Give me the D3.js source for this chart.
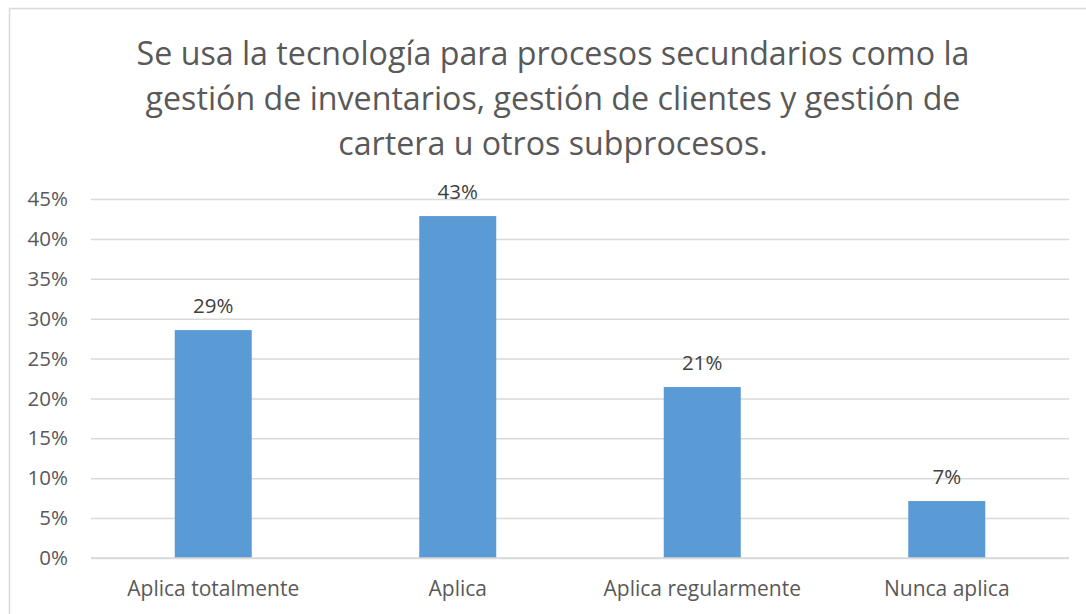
<!DOCTYPE html>
<html>
<head>
<meta charset="utf-8">
<script src="https://cdn.jsdelivr.net/npm/d3@7"></script>
<style>
  html, body { margin: 0; padding: 0; background: #fff; }
  svg { display: block; font-family: "Open Sans", Lato, sans-serif; }
</style>
</head>
<body>
<svg id="chart" width="1086" height="614"></svg>
<script>
const titleLines = [
  "Se usa la tecnología para procesos secundarios como la",
  "gestión de inventarios, gestión de clientes y gestión de",
  "cartera u otros subprocesos."
];
const categories = ["Aplica totalmente", "Aplica", "Aplica regularmente", "Nunca aplica"];
const values = [0.2857, 0.4286, 0.2143, 0.0714];
const dataLabels = ["29%", "43%", "21%", "7%"];
const yTicks = [0, 0.05, 0.10, 0.15, 0.20, 0.25, 0.30, 0.35, 0.40, 0.45];

const FONT = "'Open Sans', Lato, sans-serif";
const svg = d3.select("#chart");
const plot = { left: 91, right: 1069, top: 199, bottom: 558 };

// outer chart border
svg.append("rect")
  .attr("x", 9.5).attr("y", 8.5)
  .attr("width", 1090).attr("height", 620)
  .attr("fill", "#fff").attr("stroke", "#d9d9d9").attr("stroke-width", 1.5);

// title
svg.append("g").selectAll("text").data(titleLines).join("text")
  .attr("x", 553)
  .attr("y", (d, i) => 65 + i * 45)
  .attr("text-anchor", "middle")
  .attr("fill", "#595959")
  .style("font-size", "32.2px")
  .text(d => d);

const x = d3.scaleBand()
  .domain(categories)
  .range([plot.left, plot.right])
  .paddingInner(0.685)
  .paddingOuter(0.3425);

const y = d3.scaleLinear()
  .domain([0, 0.45])
  .range([plot.bottom, plot.top]);

// gridlines + y tick labels
const yAxis = d3.axisLeft(y)
  .tickValues(yTicks)
  .tickFormat(d3.format(".0%"))
  .tickSize(-(plot.right - plot.left))
  .tickPadding(23);

const gy = svg.append("g")
  .attr("transform", `translate(${plot.left},0)`)
  .call(yAxis);
gy.select(".domain").remove();
gy.selectAll(".tick line").attr("stroke", "#d9d9d9").attr("stroke-width", 1.5);
gy.selectAll(".tick text")
  .attr("fill", "#595959")
  .style("font-size", "20.5px")
  .style("font-family", FONT);

// bars
svg.append("g").selectAll("rect").data(values).join("rect")
  .attr("x", (d, i) => x(categories[i]))
  .attr("y", d => y(d))
  .attr("width", x.bandwidth())
  .attr("height", d => y(0) - y(d))
  .attr("fill", "#5b9bd5");

// baseline
svg.append("line")
  .attr("x1", plot.left).attr("x2", plot.right)
  .attr("y1", y(0)).attr("y2", y(0))
  .attr("stroke", "#d9d9d9").attr("stroke-width", 1.5);

// data labels
svg.append("g").selectAll("text").data(values).join("text")
  .attr("x", (d, i) => x(categories[i]) + x.bandwidth() / 2)
  .attr("y", d => y(d) - 17)
  .attr("text-anchor", "middle")
  .attr("fill", "#404040")
  .style("font-size", "20.5px")
  .text((d, i) => dataLabels[i]);

// x axis labels
const xAxis = d3.axisBottom(x).tickSize(0).tickPadding(23);
const gx = svg.append("g")
  .attr("transform", `translate(0,${plot.bottom})`)
  .call(xAxis);
gx.select(".domain").remove();
gx.selectAll(".tick text")
  .attr("fill", "#595959")
  .style("font-size", "21px")
  .style("font-family", FONT);
</script>
</body>
</html>
